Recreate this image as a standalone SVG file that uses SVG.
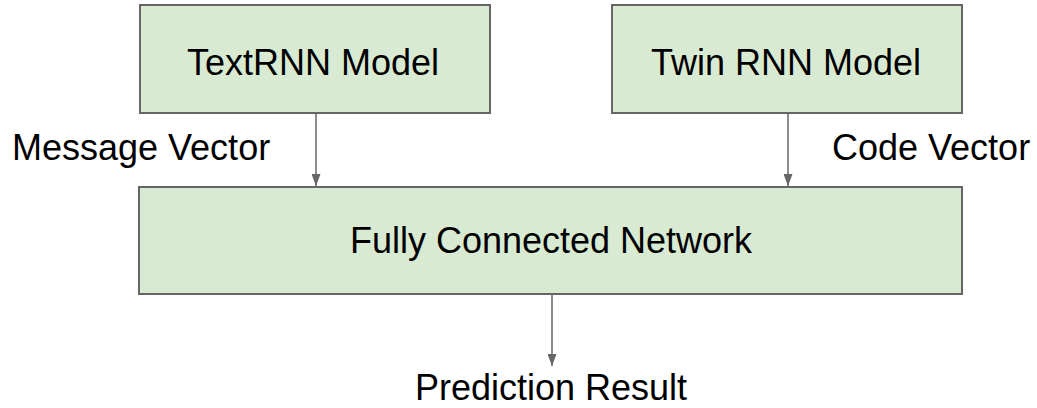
<svg xmlns="http://www.w3.org/2000/svg" width="1037" height="408" viewBox="0 0 1037 408">
<style>
.box{fill:#d9ead3;stroke:#666666;stroke-width:2}
.t{font-family:"Liberation Sans",Arial,sans-serif;font-size:36px;fill:#000}
.c{stroke:#666666;stroke-width:1.5;fill:none}
</style>
<defs>
<marker id="ah" markerWidth="12" markerHeight="9" refX="12" refY="4.5" orient="auto" markerUnits="userSpaceOnUse" viewBox="0 0 12 9">
<path d="M0,0 L12,4.5 L0,9 Z" fill="#666666"/>
</marker>
</defs>
<rect width="1037" height="408" fill="#ffffff"/>
<g id="textrnn">
<rect class="box" x="140" y="5" width="350" height="108"/>
<text class="t" x="313" y="75" text-anchor="middle">TextRNN Model</text>
</g>
<g id="twinrnn">
<rect class="box" x="612" y="5" width="350" height="108"/>
<text class="t" x="786" y="75" text-anchor="middle">Twin RNN Model</text>
</g>
<g id="fcn">
<rect class="box" x="139" y="187" width="823" height="107"/>
<text class="t" x="551" y="253" text-anchor="middle">Fully Connected Network</text>
</g>
<g id="connectors">
<line class="c" x1="316" y1="113" x2="316" y2="186" marker-end="url(#ah)"/>
<line class="c" x1="788" y1="113" x2="788" y2="186" marker-end="url(#ah)"/>
<line class="c" x1="552" y1="294" x2="552" y2="366" marker-end="url(#ah)"/>
</g>
<g id="labels">
<text class="t" x="12" y="160">Message Vector</text>
<text class="t" x="832" y="160">Code Vector</text>
<text class="t" x="551" y="400" text-anchor="middle">Prediction Result</text>
</g>
</svg>
